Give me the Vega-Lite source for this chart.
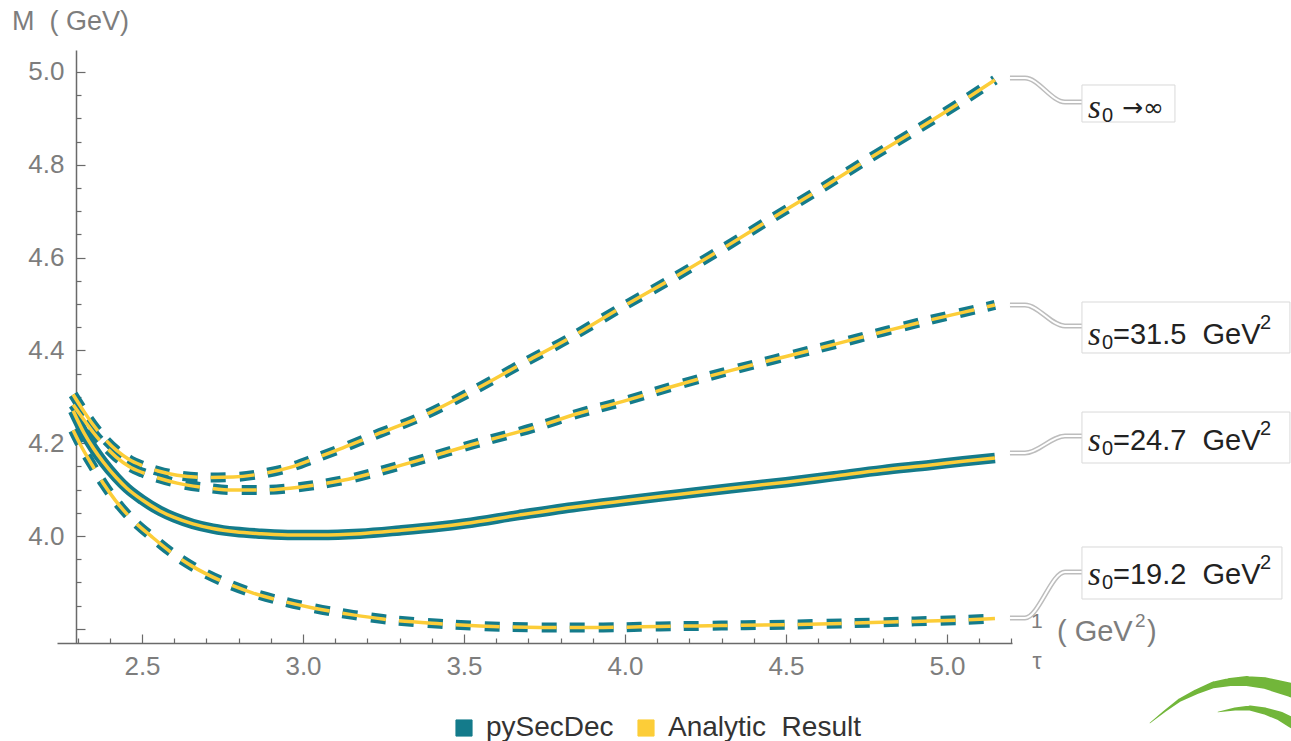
{
"$schema":"https://vega.github.io/schema/vega-lite/v6.json",
"width":955,"height":593,
"autosize":{"type":"none"},
"padding":{"left":57,"top":50,"right":279,"bottom":98},
"background":"#ffffff",
"config":{"view":{"stroke":null},"font":"Liberation Sans"},
"resolve":{"scale":{"size":"independent"},"axis":{"x":"independent","y":"independent"}},
"datasets":{
"curves":[
{"curve":"inf","x":2.286,"M":4.305},{"curve":"inf","x":2.32,"M":4.268},{"curve":"inf","x":2.35,"M":4.238},{"curve":"inf","x":2.39,"M":4.205},{"curve":"inf","x":2.42,"M":4.185},{"curve":"inf","x":2.46,"M":4.165},{"curve":"inf","x":2.5,"M":4.152},{"curve":"inf","x":2.55,"M":4.14},{"curve":"inf","x":2.609,"M":4.131},{"curve":"inf","x":2.7,"M":4.126},{"curve":"inf","x":2.783,"M":4.127},{"curve":"inf","x":2.87,"M":4.134},{"curve":"inf","x":2.96,"M":4.148},{"curve":"inf","x":3.04,"M":4.168},{"curve":"inf","x":3.124,"M":4.19},{"curve":"inf","x":3.239,"M":4.222},{"curve":"inf","x":3.363,"M":4.256},{"curve":"inf","x":3.519,"M":4.31},{"curve":"inf","x":3.674,"M":4.369},{"curve":"inf","x":3.829,"M":4.427},{"curve":"inf","x":3.975,"M":4.487},{"curve":"inf","x":4.14,"M":4.552},{"curve":"inf","x":4.3,"M":4.618},{"curve":"inf","x":4.45,"M":4.682},{"curve":"inf","x":4.6,"M":4.745},{"curve":"inf","x":4.75,"M":4.81},{"curve":"inf","x":4.9,"M":4.873},{"curve":"inf","x":5.05,"M":4.938},{"curve":"inf","x":5.149,"M":4.983},
{"curve":"31.5","x":2.286,"M":4.283},{"curve":"31.5","x":2.32,"M":4.25},{"curve":"31.5","x":2.35,"M":4.222},{"curve":"31.5","x":2.39,"M":4.19},{"curve":"31.5","x":2.42,"M":4.17},{"curve":"31.5","x":2.46,"M":4.15},{"curve":"31.5","x":2.5,"M":4.137},{"curve":"31.5","x":2.55,"M":4.125},{"curve":"31.5","x":2.609,"M":4.114},{"curve":"31.5","x":2.7,"M":4.104},{"curve":"31.5","x":2.783,"M":4.099},{"curve":"31.5","x":2.87,"M":4.099},{"curve":"31.5","x":2.96,"M":4.103},{"curve":"31.5","x":3.04,"M":4.11},{"curve":"31.5","x":3.124,"M":4.12},{"curve":"31.5","x":3.24,"M":4.14},{"curve":"31.5","x":3.363,"M":4.164},{"curve":"31.5","x":3.54,"M":4.2},{"curve":"31.5","x":3.714,"M":4.233},{"curve":"31.5","x":3.86,"M":4.265},{"curve":"31.5","x":3.994,"M":4.29},{"curve":"31.5","x":4.161,"M":4.325},{"curve":"31.5","x":4.33,"M":4.357},{"curve":"31.5","x":4.5,"M":4.387},{"curve":"31.5","x":4.65,"M":4.413},{"curve":"31.5","x":4.8,"M":4.44},{"curve":"31.5","x":4.95,"M":4.466},{"curve":"31.5","x":5.05,"M":4.482},{"curve":"31.5","x":5.149,"M":4.498},
{"curve":"24.7","x":2.286,"M":4.27},{"curve":"24.7","x":2.32,"M":4.222},{"curve":"24.7","x":2.35,"M":4.188},{"curve":"24.7","x":2.379,"M":4.16},{"curve":"24.7","x":2.42,"M":4.126},{"curve":"24.7","x":2.453,"M":4.103},{"curve":"24.7","x":2.5,"M":4.078},{"curve":"24.7","x":2.556,"M":4.054},{"curve":"24.7","x":2.6,"M":4.04},{"curve":"24.7","x":2.658,"M":4.026},{"curve":"24.7","x":2.72,"M":4.016},{"curve":"24.7","x":2.79,"M":4.009},{"curve":"24.7","x":2.87,"M":4.005},{"curve":"24.7","x":2.969,"M":4.002},{"curve":"24.7","x":3.05,"M":4.002},{"curve":"24.7","x":3.177,"M":4.005},{"curve":"24.7","x":3.3,"M":4.012},{"curve":"24.7","x":3.42,"M":4.02},{"curve":"24.7","x":3.503,"M":4.027},{"curve":"24.7","x":3.67,"M":4.045},{"curve":"24.7","x":3.838,"M":4.062},{"curve":"24.7","x":4.0,"M":4.076},{"curve":"24.7","x":4.171,"M":4.09},{"curve":"24.7","x":4.33,"M":4.103},{"curve":"24.7","x":4.5,"M":4.116},{"curve":"24.7","x":4.65,"M":4.129},{"curve":"24.7","x":4.8,"M":4.142},{"curve":"24.7","x":4.95,"M":4.153},{"curve":"24.7","x":5.05,"M":4.161},{"curve":"24.7","x":5.149,"M":4.168},
{"curve":"19.2","x":2.286,"M":4.228},{"curve":"19.2","x":2.31,"M":4.195},{"curve":"19.2","x":2.345,"M":4.153},{"curve":"19.2","x":2.38,"M":4.113},{"curve":"19.2","x":2.416,"M":4.078},{"curve":"19.2","x":2.47,"M":4.035},{"curve":"19.2","x":2.531,"M":3.998},{"curve":"19.2","x":2.59,"M":3.965},{"curve":"19.2","x":2.658,"M":3.934},{"curve":"19.2","x":2.75,"M":3.902},{"curve":"19.2","x":2.845,"M":3.877},{"curve":"19.2","x":2.94,"M":3.859},{"curve":"19.2","x":3.031,"M":3.845},{"curve":"19.2","x":3.155,"M":3.83},{"curve":"19.2","x":3.248,"M":3.821},{"curve":"19.2","x":3.425,"M":3.811},{"curve":"19.2","x":3.55,"M":3.806},{"curve":"19.2","x":3.736,"M":3.803},{"curve":"19.2","x":3.932,"M":3.803},{"curve":"19.2","x":4.109,"M":3.805},{"curve":"19.2","x":4.3,"M":3.807},{"curve":"19.2","x":4.5,"M":3.809},{"curve":"19.2","x":4.7,"M":3.812},{"curve":"19.2","x":4.9,"M":3.816},{"curve":"19.2","x":5.05,"M":3.819},{"curve":"19.2","x":5.149,"M":3.822}
],
"callouts":[
{"c":"inf","o":1,"x":5.1957,"y":4.9871},{"c":"inf","o":2,"x":5.2422,"y":4.9871},{"c":"inf","o":3,"x":5.3665,"y":4.9353},{"c":"inf","o":4,"x":5.4193,"y":4.9353},
{"c":"31.5","o":1,"x":5.1957,"y":4.4978},{"c":"31.5","o":2,"x":5.2422,"y":4.4978},{"c":"31.5","o":3,"x":5.3665,"y":4.4526},{"c":"31.5","o":4,"x":5.4193,"y":4.4526},
{"c":"24.7","o":1,"x":5.1957,"y":4.1789},{"c":"24.7","o":2,"x":5.2422,"y":4.1789},{"c":"24.7","o":3,"x":5.3665,"y":4.2155},{"c":"24.7","o":4,"x":5.4193,"y":4.2155},
{"c":"19.2","o":1,"x":5.1957,"y":3.8233},{"c":"19.2","o":2,"x":5.2422,"y":3.8233},{"c":"19.2","o":3,"x":5.3665,"y":3.9224},{"c":"19.2","o":4,"x":5.4193,"y":3.9224}
],
"labels":[
{"c":"inf","b1":5.4193,"b2":5.7081,"top":4.972,"bot":4.8922,"ty":4.9224,"rest":"→∞"},
{"c":"31.5","b1":5.4193,"b2":6.0652,"top":4.5043,"bot":4.3944,"ty":4.434,"rest":"=31.5\u00a0\u00a0GeV"},
{"c":"24.7","b1":5.4193,"b2":6.0652,"top":4.2672,"bot":4.1573,"ty":4.205,"rest":"=24.7\u00a0\u00a0GeV"},
{"c":"19.2","b1":5.4193,"b2":6.0404,"top":3.9763,"bot":3.8642,"ty":3.915,"rest":"=19.2\u00a0\u00a0GeV"}
],
"logo1":[
{"x":5.6304,"y":3.597},{"x":5.677,"y":3.6228},{"x":5.7236,"y":3.6466},{"x":5.7733,"y":3.6638},{"x":5.8261,"y":3.6789},{"x":5.8789,"y":3.6853},{"x":5.9317,"y":3.6875},{"x":5.9876,"y":3.6832},{"x":6.0683,"y":3.6681},{"x":6.0963,"y":3.6616}
],
"logo2":[
{"x":5.8416,"y":3.6207},{"x":5.8944,"y":3.6272},{"x":5.941,"y":3.6293},{"x":5.9876,"y":3.6228},{"x":6.0342,"y":3.6121},{"x":6.0683,"y":3.5991},{"x":6.0963,"y":3.5884}
]
},
"layer":[
{"data":{"name":"curves"},"transform":[{"filter":"datum.curve!=='24.7'"}],
 "mark":{"type":"line","strokeWidth":10,"strokeCap":"butt","interpolate":"monotone","strokeDash":[15,14,15,13]},
 "encoding":{
  "x":{"field":"x","type":"quantitative","title":null,"scale":{"domain":[2.236,5.202],"nice":false,"zero":false},
   "axis":{"orient":"bottom","values":[2.5,3.0,3.5,4.0,4.5,5.0],"format":".1f","tickSize":-9,
   "grid":false,"domainColor":"#6a6a6a","domainWidth":1.5,"tickColor":"#6a6a6a","tickWidth":1.2,"labelColor":"#7d7d7d","labelFontSize":26,"labelFont":"Liberation Sans","labelPadding":19,"labelOverlap":false,"labelFlush":false}},
  "y":{"field":"M","type":"quantitative","title":null,"scale":{"domain":[3.7694,5.0474],"nice":false,"zero":false},
   "axis":{"orient":"left","values":[3.8,4.0,4.2,4.4,4.6,4.8,5.0],"offset":-19,"tickSize":-9,
   "labelExpr":"datum.value < 3.9 ? '' : format(datum.value,'.1f')",
   "grid":false,"domainColor":"#6a6a6a","domainWidth":1.5,"tickColor":"#6a6a6a","tickWidth":1.2,"labelColor":"#7d7d7d","labelFontSize":26,"labelFont":"Liberation Sans","labelPadding":21,"labelOverlap":false,"labelFlush":false}},
  "detail":{"field":"curve"},
  "color":{"datum":"pySecDec","type":"nominal","scale":{"domain":["pySecDec","Analytic Result"],"range":["#147b8b","#fccd38"]},
   "legend":{"orient":"none","legendX":393,"legendY":664,"direction":"horizontal","title":null,"symbolType":"square","symbolSize":260,"symbolStrokeWidth":1,"labelFontSize":28,"labelFont":"Liberation Sans","labelColor":"#333333","labelOffset":8,"columnPadding":18,"labelLimit":500,
    "labelExpr":"replace(datum.label, ' ', '\u00a0\u00a0')",
    "encode":{"symbols":{"update":{"fill":{"scale":"color","field":"value"},"fillOpacity":{"value":1},"strokeDash":{"value":[]}}}}}}}},
{"data":{"name":"curves"},"transform":[{"filter":"datum.curve==='24.7'"}],
 "mark":{"type":"line","strokeWidth":10.5,"interpolate":"monotone"},
 "encoding":{"x":{"field":"x","type":"quantitative","title":null,
   "axis":{"orient":"bottom","values":[2.3,2.4,2.6,2.7,2.8,2.9,3.1,3.2,3.3,3.4,3.6,3.7,3.8,3.9,4.1,4.2,4.3,4.4,4.6,4.7,4.8,4.9,5.1,5.2],"labels":false,"domain":false,"grid":false,"tickSize":-5,"tickColor":"#6a6a6a","tickWidth":1.2}},
  "y":{"field":"M","type":"quantitative","title":null,
   "axis":{"orient":"left","values":[3.85,3.9,3.95,4.05,4.1,4.15,4.25,4.3,4.35,4.45,4.5,4.55,4.65,4.7,4.75,4.85,4.9,4.95],"offset":-19,"labels":false,"domain":false,"grid":false,"tickSize":-5,"tickColor":"#6a6a6a","tickWidth":1.2}},
  "color":{"datum":"pySecDec","type":"nominal"}}},
{"data":{"name":"curves"},"transform":[{"filter":"datum.curve!=='24.7'"}],
 "mark":{"type":"line","strokeWidth":3.5,"strokeCap":"butt","interpolate":"monotone","strokeDash":[44,13]},
 "encoding":{"x":{"field":"x","type":"quantitative","title":null,"axis":null},"y":{"field":"M","type":"quantitative","title":null,"axis":null},"detail":{"field":"curve"},
  "color":{"datum":"Analytic Result","type":"nominal"}}},
{"data":{"name":"curves"},"transform":[{"filter":"datum.curve==='24.7'"}],
 "mark":{"type":"line","strokeWidth":3.5,"interpolate":"monotone"},
 "encoding":{"x":{"field":"x","type":"quantitative","title":null,"axis":null},"y":{"field":"M","type":"quantitative","title":null,"axis":null},
  "color":{"datum":"Analytic Result","type":"nominal"}}},
{"data":{"name":"logo1"},"mark":{"type":"trail","color":"#72b63a"},
 "encoding":{"x":{"field":"x","type":"quantitative","title":null,"axis":null},
  "y":{"field":"y","type":"quantitative","title":null,"axis":null},
  "order":{"field":"x","type":"quantitative"},
  "size":{"field":"x","type":"quantitative","legend":null,"scale":{"domain":[5.63,6.1],"range":[0.5,15]}}}},
{"data":{"name":"logo2"},"mark":{"type":"trail","color":"#72b63a"},
 "encoding":{"x":{"field":"x","type":"quantitative","title":null,"axis":null},
  "y":{"field":"y","type":"quantitative","title":null,"axis":null},
  "order":{"field":"x","type":"quantitative"},
  "size":{"field":"x","type":"quantitative","legend":null,"scale":{"domain":[5.84,6.1],"range":[0.5,12]}}}},
{"data":{"name":"callouts"},"mark":{"type":"line","color":"#bdbdbd","strokeWidth":5,"interpolate":"monotone"},
 "encoding":{"x":{"field":"x","type":"quantitative","title":null,"axis":null},"y":{"field":"y","type":"quantitative","title":null,"axis":null},"detail":{"field":"c"},"order":{"field":"o","type":"quantitative"}}},
{"data":{"name":"callouts"},"mark":{"type":"line","color":"#ffffff","strokeWidth":2,"interpolate":"monotone"},
 "encoding":{"x":{"field":"x","type":"quantitative","title":null,"axis":null},"y":{"field":"y","type":"quantitative","title":null,"axis":null},"detail":{"field":"c"},"order":{"field":"o","type":"quantitative"}}},
{"data":{"name":"labels"},"mark":{"type":"rect","fill":"#ffffff","stroke":"#d9d9d9","strokeWidth":1},
 "encoding":{"x":{"field":"b1","type":"quantitative","title":null,"axis":null},"x2":{"field":"b2"},"y":{"field":"top","type":"quantitative","title":null,"axis":null},"y2":{"field":"bot"}}},
{"data":{"name":"labels"},"mark":{"type":"text","text":"s","font":"Liberation Serif","fontStyle":"italic","fontSize":33,"align":"left","baseline":"middle","dx":6,"color":"#222222"},
 "encoding":{"x":{"field":"b1","type":"quantitative","title":null,"axis":null},"y":{"field":"ty","type":"quantitative","title":null,"axis":null},
  "fontWeight":{"condition":{"test":"datum.c==='24.7'","value":"bold"},"value":"normal"}}},
{"data":{"name":"labels"},"mark":{"type":"text","text":"0","fontSize":20,"align":"left","baseline":"middle","dx":20,"dy":8,"color":"#222222"},
 "encoding":{"x":{"field":"b1","type":"quantitative","title":null,"axis":null},"y":{"field":"ty","type":"quantitative","title":null,"axis":null},
  "fontWeight":{"condition":{"test":"datum.c==='24.7'","value":"bold"},"value":"normal"}}},
{"data":{"name":"labels"},"transform":[{"filter":"datum.c!=='inf'"}],"mark":{"type":"text","fontSize":29,"align":"left","baseline":"middle","dx":31,"color":"#222222"},
 "encoding":{"x":{"field":"b1","type":"quantitative","title":null,"axis":null},"y":{"field":"ty","type":"quantitative","title":null,"axis":null},"text":{"field":"rest"},
  "fontWeight":{"condition":{"test":"datum.c==='24.7'","value":"bold"},"value":"normal"}}},
{"data":{"name":"labels"},"transform":[{"filter":"datum.c==='inf'"}],"mark":{"type":"text","font":"DejaVu Sans","fontSize":25,"align":"left","baseline":"middle","dx":40,"color":"#222222"},
 "encoding":{"x":{"field":"b1","type":"quantitative","title":null,"axis":null},"y":{"field":"ty","type":"quantitative","title":null,"axis":null},"text":{"field":"rest"}}},
{"data":{"name":"labels"},"transform":[{"filter":"datum.c!=='inf'"}],"mark":{"type":"text","text":"2","fontSize":20,"align":"left","baseline":"middle","dx":178,"dy":-12,"color":"#222222"},
 "encoding":{"x":{"field":"b1","type":"quantitative","title":null,"axis":null},"y":{"field":"ty","type":"quantitative","title":null,"axis":null},
  "fontWeight":{"condition":{"test":"datum.c==='24.7'","value":"bold"},"value":"normal"}}},
{"data":{"values":[{}]},"mark":{"type":"text","text":"M\u00a0\u00a0(\u00a0GeV)","fontSize":27,"align":"left","baseline":"middle","color":"#7d7d7d"},
 "encoding":{"x":{"datum":2.0963,"type":"quantitative","axis":null},"y":{"datum":5.1078,"type":"quantitative","axis":null}}},
{"data":{"values":[{}]},"mark":{"type":"text","text":"1","fontSize":21,"align":"center","baseline":"middle","color":"#7d7d7d"},
 "encoding":{"x":{"datum":5.2795,"type":"quantitative","axis":null},"y":{"datum":3.8147,"type":"quantitative","axis":null}}},
{"data":{"values":[{}]},"mark":{"type":"text","text":"τ","fontSize":23,"align":"center","baseline":"middle","color":"#7d7d7d"},
 "encoding":{"x":{"datum":5.2795,"type":"quantitative","axis":null},"y":{"datum":3.7284,"type":"quantitative","axis":null}}},
{"data":{"values":[{}]},"mark":{"type":"text","text":"(\u00a0GeV","fontSize":29,"align":"left","baseline":"middle","color":"#7d7d7d"},
 "encoding":{"x":{"datum":5.3416,"type":"quantitative","axis":null},"y":{"datum":3.7931,"type":"quantitative","axis":null}}},
{"data":{"values":[{}]},"mark":{"type":"text","text":"2","fontSize":19,"align":"left","baseline":"middle","dx":78,"dy":-11,"color":"#7d7d7d"},
 "encoding":{"x":{"datum":5.3416,"type":"quantitative","axis":null},"y":{"datum":3.7931,"type":"quantitative","axis":null}}},
{"data":{"values":[{}]},"mark":{"type":"text","text":")","fontSize":29,"align":"left","baseline":"middle","dx":90,"color":"#7d7d7d"},
 "encoding":{"x":{"datum":5.3416,"type":"quantitative","axis":null},"y":{"datum":3.7931,"type":"quantitative","axis":null}}}
]
}
